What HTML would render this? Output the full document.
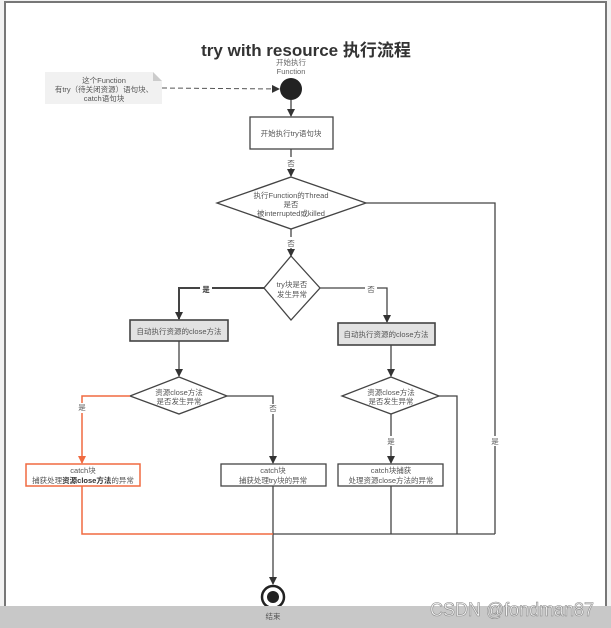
<!DOCTYPE html>
<html><head><meta charset="utf-8"><style>
html,body{margin:0;padding:0;background:#f2f2f2;}
svg{display:block;}
text{font-family:"Liberation Sans","Noto Sans CJK SC",sans-serif;}
</style></head><body>
<svg width="611" height="628" viewBox="0 0 611 628" xmlns="http://www.w3.org/2000/svg">
<defs>
<marker id="a" markerWidth="8" markerHeight="8" refX="7" refY="4" orient="auto" markerUnits="userSpaceOnUse"><path d="M0,0 L8,4 L0,8 z" fill="#333"/></marker>
<marker id="ao" markerWidth="8" markerHeight="8" refX="7" refY="4" orient="auto" markerUnits="userSpaceOnUse"><path d="M0,0 L8,4 L0,8 z" fill="#f06a40"/></marker>
</defs>
<rect x="5" y="2" width="601" height="640" fill="#fff" stroke="#777" stroke-width="2"/>
<text x="306" y="56" font-size="17" font-weight="bold" text-anchor="middle" fill="#333">try with resource 执行流程</text>
<g font-size="7.5" fill="#666" text-anchor="middle">
<text x="291" y="65">开始执行</text><text x="291" y="74">Function</text>
</g>
<circle cx="291" cy="89" r="11" fill="#222"/>
<path d="M45,72 L153,72 L162,81 L162,104 L45,104 z" fill="#f1f1f1"/>
<path d="M153,72 L162,81 L153,81 z" fill="#ccc"/>
<g font-size="7.5" fill="#555" text-anchor="middle">
<text x="104" y="83">这个Function</text><text x="104" y="92">有try（待关闭资源）语句块、</text><text x="104" y="101">catch语句块</text>
</g>
<line x1="162" y1="88" x2="279" y2="89" stroke="#555" stroke-dasharray="5,3" marker-end="url(#a)"/>
<g stroke="#444" stroke-width="1.3" fill="none">
<line x1="291" y1="100" x2="291" y2="116" marker-end="url(#a)"/>
<rect x="250" y="117" width="83" height="32" fill="#fff"/>
<line x1="291" y1="149" x2="291" y2="176" marker-end="url(#a)"/>
<polygon points="291,177 366,203 291,229 217,203" fill="#fff"/>
<line x1="291" y1="229" x2="291" y2="256" marker-end="url(#a)"/>
<polygon points="291,256 320,288 291,320 264,288" fill="#fff"/>
<polyline points="264,288 179,288 179,319" marker-end="url(#a)" stroke-width="2"/>
<polyline points="320,288 387,288 387,322" marker-end="url(#a)"/>
<rect x="130" y="320" width="98" height="21" fill="#e2e2e2" stroke-width="1.6"/>
<rect x="338" y="323" width="97" height="22" fill="#e2e2e2" stroke-width="1.6"/>
<line x1="179" y1="341" x2="179" y2="376" marker-end="url(#a)"/>
<line x1="391" y1="345" x2="391" y2="376" marker-end="url(#a)"/>
<polygon points="179,377 227,396 179,414 130,396" fill="#fff"/>
<polygon points="391,377 439,396 391,414 342,396" fill="#fff"/>
<polyline points="227,396 273,396 273,463" marker-end="url(#a)"/>
<line x1="391" y1="414" x2="391" y2="463" marker-end="url(#a)"/>
<rect x="221" y="464" width="105" height="22" fill="#fff"/>
<rect x="338" y="464" width="105" height="22" fill="#fff"/>
<polyline points="439,396 457,396 457,534"/>
<polyline points="366,203 495,203 495,534"/>
<polyline points="273,534 495,534"/>
<line x1="391" y1="486" x2="391" y2="534"/>
<line x1="273" y1="486" x2="273" y2="584" marker-end="url(#a)"/>
</g>
<g stroke="#f06a40" stroke-width="1.5" fill="none">
<polyline points="130,396 82,396 82,463" marker-end="url(#ao)"/>
<rect x="26" y="464" width="114" height="22" fill="#fff"/>
<polyline points="82,486 82,534 273,534"/>
</g>
<circle cx="273" cy="597" r="11" fill="#fff" stroke="#222" stroke-width="2.5"/>
<circle cx="273" cy="597" r="6" fill="#222"/>
<g fill="#fff">
<rect x="285" y="157" width="12" height="11"/>
<rect x="285" y="237" width="12" height="11"/>
<rect x="200" y="284" width="12" height="10"/>
<rect x="365" y="284" width="12" height="10"/>
<rect x="76" y="403" width="12" height="10"/>
<rect x="267" y="404" width="12" height="10"/>
<rect x="385" y="436" width="12" height="10"/>
<rect x="489" y="436" width="12" height="10"/>
</g>
<g font-size="7.5" fill="#555" text-anchor="middle">
<text x="291" y="136">开始执行try语句块</text>
<text x="291" y="166">否</text>
<text x="291" y="198">执行Function的Thread</text><text x="291" y="207">是否</text><text x="291" y="216">被interrupted或killed</text>
<text x="291" y="246">否</text>
<text x="292" y="287">try块是否</text><text x="292" y="297">发生异常</text>
<text x="206" y="292" font-weight="bold" fill="#333">是</text>
<text x="371" y="292">否</text>
<text x="179" y="334">自动执行资源的close方法</text>
<text x="386" y="337">自动执行资源的close方法</text>
<text x="179" y="395">资源close方法</text><text x="179" y="404">是否发生异常</text>
<text x="391" y="395">资源close方法</text><text x="391" y="404">是否发生异常</text>
<text x="82" y="410">是</text><text x="273" y="411">否</text>
<text x="391" y="444">是</text><text x="495" y="444">是</text>
<text x="83" y="473">catch块</text><text x="83" y="483">捕获处理<tspan font-weight="bold" fill="#333">资源close方法</tspan>的异常</text>
<text x="273" y="473">catch块</text><text x="273" y="483">捕获处理try块的异常</text>
<text x="391" y="473">catch块捕获</text><text x="391" y="483">处理资源close方法的异常</text>
</g>
<rect x="0" y="606" width="611" height="22" fill="#c8c8c8"/>
<text x="273" y="619" font-size="7.5" fill="#555" text-anchor="middle">结束</text>
<text x="430" y="616" font-size="19" fill="#f4f4f4" stroke="#888" stroke-width="0.6" textLength="164" lengthAdjust="spacingAndGlyphs">CSDN @fondman87</text>
</svg>
</body></html>
